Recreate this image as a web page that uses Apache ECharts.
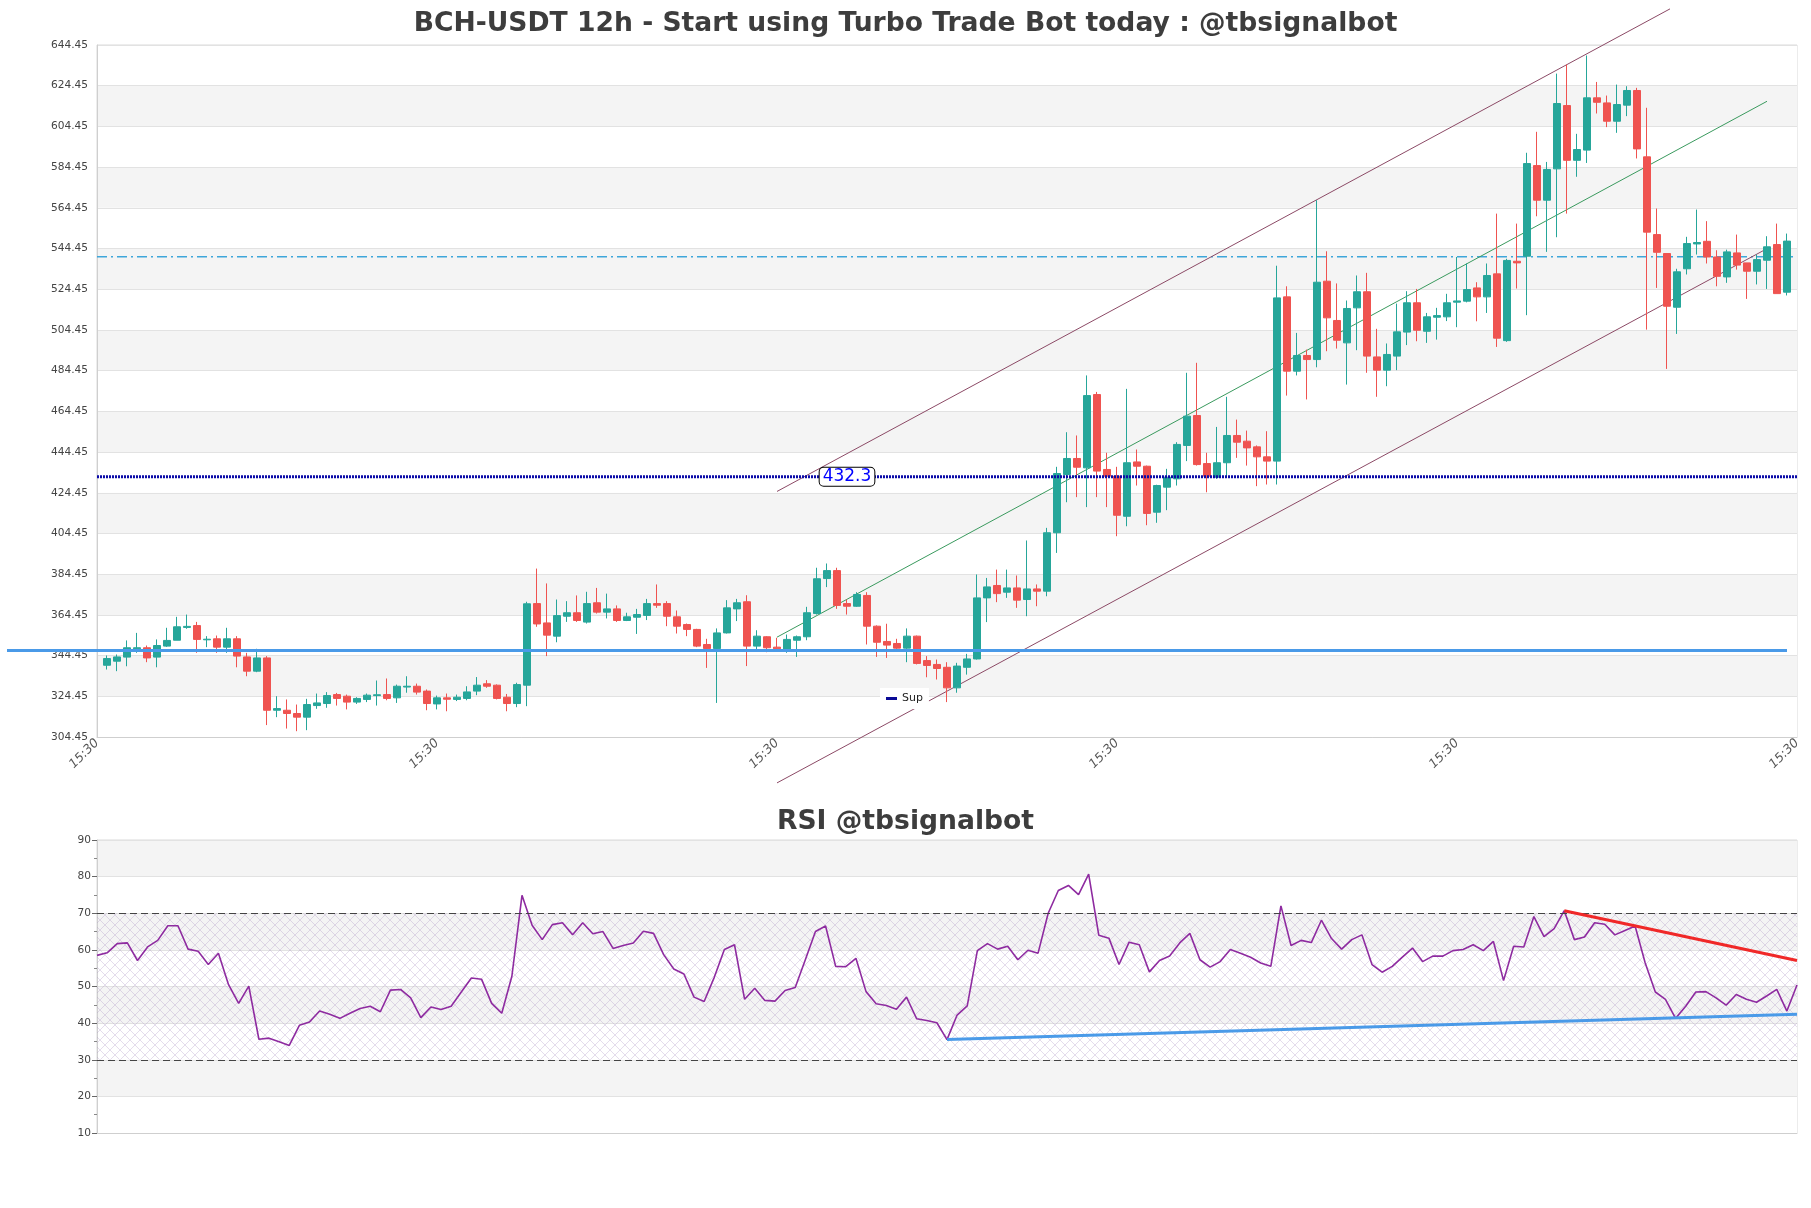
<!DOCTYPE html>
<html><head><meta charset="utf-8">
<script src="https://cdn.jsdelivr.net/npm/echarts@6/dist/echarts.min.js"></script>
<style>html,body{margin:0;padding:0;background:#fff}#c{width:1811px;height:1208px}</style>
</head><body><div id="c"></div>
<script>
// ---------- DATA ----------
const opens = [339.7,341.7,343.7,347.8,348.3,343.7,349.1,352.0,358.3,359.2,352.2,352.7,348.6,352.7,343.8,336.8,343.3,317.6,317.6,316.0,314.2,319.9,320.9,325.3,324.5,321.6,322.9,324.8,325.3,323.7,329.0,329.4,327.0,320.7,323.7,322.9,323.4,327.0,330.6,329.9,324.0,320.9,329.9,370.0,360.5,354.0,363.8,365.5,360.9,370.4,365.8,367.4,361.7,363.3,364.2,370.0,370.0,363.5,359.7,357.3,349.9,347.9,355.6,367.4,370.9,349.1,353.7,348.6,347.4,352.0,353.7,365.1,382.3,386.2,370.0,368.7,374.0,358.9,351.4,350.4,348.1,354.0,342.0,340.1,338.7,328.6,338.7,342.8,372.8,378.9,375.6,377.7,372.0,377.2,376.1,404.8,433.4,441.3,436.7,472.7,435.9,432.6,412.9,439.6,437.5,414.9,427.2,431.3,447.7,462.4,438.8,432.1,439.2,452.6,449.8,447.0,442.1,440.0,520.7,484.2,491.9,489.9,528.4,509.1,498.1,515.3,523.2,491.2,484.7,491.6,503.4,517.8,503.8,510.7,510.9,518.1,518.6,525.1,520.7,532.0,499.2,538.2,540.7,585.2,568.2,583.6,614.7,587.8,592.8,618.5,616.0,607.0,614.9,622.1,589.5,551.3,542.0,515.6,534.5,546.7,548.0,540.3,530.5,542.3,537.4,533.3,538.7,546.4,523.0];
const closes = [343.0,343.8,348.3,348.3,343.3,349.4,351.9,358.6,358.8,352.4,352.5,348.6,352.7,344.2,336.8,343.3,317.6,318.4,316.0,314.2,320.4,321.2,324.8,323.4,321.6,323.4,325.0,325.2,323.4,329.4,329.4,326.5,320.9,323.7,323.0,324.0,326.6,329.9,329.4,323.4,320.9,330.2,369.9,360.0,354.5,364.1,365.5,361.7,370.0,365.8,367.4,361.7,363.5,364.6,370.0,369.2,363.8,358.9,357.3,349.1,347.9,355.6,367.9,370.4,349.1,354.0,348.3,347.8,352.4,353.7,365.5,382.2,386.2,369.1,368.7,374.5,358.9,351.0,349.6,348.1,354.0,340.6,339.6,338.1,328.6,339.3,342.8,372.8,378.2,374.9,377.7,371.7,377.2,376.1,404.8,433.9,441.3,437.0,472.2,435.1,432.6,413.4,439.2,437.5,414.3,428.0,432.1,448.2,462.1,438.3,432.6,439.2,452.6,449.3,446.5,442.1,440.0,520.2,484.2,491.9,489.9,527.9,510.4,499.4,515.0,523.2,491.6,484.7,492.4,503.5,517.8,504.3,510.9,511.5,517.8,518.7,524.3,520.7,531.2,500.4,538.6,537.4,586.2,568.2,583.3,615.7,587.8,593.1,618.5,616.3,607.0,615.2,622.1,593.4,552.5,542.6,516.1,533.0,546.9,547.4,540.3,530.8,542.8,536.3,533.3,539.0,545.3,522.3,548.1];
const lows = [337.6,336.8,339.2,345.8,341.2,338.7,348.7,352.0,357.6,345.8,348.6,345.8,345.8,338.7,334.3,336.3,310.3,314.2,308.6,307.3,307.8,318.3,318.8,319.9,318.0,320.7,321.6,319.9,322.5,321.2,326.2,325.3,317.6,318.0,317.1,322.1,322.5,325.0,328.6,322.9,317.1,319.1,319.6,358.6,344.2,351.0,361.0,361.0,360.2,365.1,362.7,361.0,361.4,355.1,361.9,367.9,358.9,355.3,354.0,348.6,338.4,321.2,355.3,361.4,339.3,346.3,346.1,346.6,345.8,343.8,352.0,364.6,378.1,367.4,364.6,368.4,349.9,343.8,343.3,347.1,341.2,340.1,333.8,332.7,321.6,326.2,335.1,342.5,360.9,370.7,372.8,367.9,363.8,368.7,373.6,394.9,419.8,422.3,417.4,422.3,417.4,403.1,408.0,428.0,408.5,409.7,415.9,428.0,440.0,437.8,424.7,431.3,432.6,441.6,437.8,427.7,428.5,428.5,472.2,482.1,470.3,486.1,494.0,495.3,477.6,494.5,483.4,471.6,476.8,484.7,497.0,498.9,498.1,499.7,508.8,505.8,518.0,508.7,512.8,496.1,498.6,524.8,511.7,560.3,542.8,550.0,561.6,579.7,586.5,610.8,604.1,601.3,609.5,588.7,504.6,525.1,485.3,502.5,531.7,541.5,537.1,525.9,527.6,534.1,519.7,526.8,524.6,522.3,521.4];
const highs = [344.5,345.0,351.9,355.6,349.4,352.4,358.1,363.5,364.6,361.0,354.0,354.3,358.1,354.0,345.8,347.8,344.2,324.5,322.9,320.4,323.2,325.8,326.5,326.1,325.3,324.0,325.8,332.2,333.2,330.2,334.3,330.7,327.8,324.8,325.8,325.3,329.4,333.9,332.4,330.3,325.6,331.1,370.9,387.2,379.9,372.0,371.2,374.0,375.8,377.7,374.9,369.1,365.5,367.4,372.3,379.4,371.2,366.6,360.2,357.6,352.7,357.8,371.7,372.3,374.1,356.9,354.0,353.2,354.8,354.3,368.4,387.6,389.7,387.6,372.0,375.6,375.6,359.3,360.1,352.7,357.8,354.3,344.2,342.5,341.2,340.9,345.3,384.3,382.6,386.7,386.7,383.8,401.0,379.4,407.2,437.2,454.2,452.6,482.1,474.0,444.1,437.2,475.5,445.7,437.8,428.4,436.2,449.3,483.4,488.3,444.1,456.8,471.6,460.4,455.0,447.7,454.7,536.0,525.9,503.0,494.8,568.2,543.1,527.3,518.9,531.2,532.5,505.0,497.8,517.4,523.5,524.6,512.8,515.3,522.2,540.3,537.1,527.9,537.1,561.6,539.4,556.7,591.5,601.8,587.0,630.4,634.8,600.8,639.3,626.3,619.6,625.0,624.2,623.4,613.6,564.1,542.0,534.5,550.2,563.6,557.9,543.6,543.9,551.3,537.4,541.5,550.5,556.7,551.8];
const rsiValues = [58.5,59.2,61.7,61.9,57.1,60.8,62.6,66.6,66.6,60.2,59.6,56.0,59.1,50.5,45.4,50.1,35.6,35.9,34.9,33.9,39.4,40.3,43.3,42.4,41.3,42.7,44.0,44.6,43.1,49.0,49.2,46.9,41.5,44.4,43.7,44.6,48.5,52.3,52.0,45.4,42.7,52.8,74.9,66.7,62.8,66.9,67.4,64.1,67.4,64.4,65.0,60.4,61.2,61.9,65.1,64.5,58.7,54.8,53.4,47.1,45.9,52.5,60.1,61.4,46.5,49.5,46.2,46.0,48.9,49.7,57.3,65.0,66.5,55.5,55.4,57.7,48.6,45.3,44.8,43.8,47.1,41.2,40.7,40.1,35.5,42.2,44.7,59.8,61.7,60.2,61.0,57.3,59.9,59.1,70.0,76.2,77.6,75.1,80.7,64.0,63.2,56.0,62.1,61.4,54.0,57.1,58.3,61.9,64.5,57.3,55.3,56.8,60.1,59.1,58.0,56.4,55.5,72.0,61.2,62.6,62.0,68.1,63.1,60.2,62.8,64.1,56.0,53.9,55.5,58.0,60.5,56.8,58.3,58.3,59.8,60.1,61.4,59.8,62.3,51.6,61.0,60.8,69.1,63.6,65.8,70.7,62.8,63.5,67.4,67.0,64.1,65.3,66.5,56.4,48.5,46.5,41.3,44.6,48.5,48.6,46.9,44.9,47.8,46.5,45.7,47.4,49.2,43.3,50.4];
const yTicks = [304.45,324.45,344.45,364.45,384.45,404.45,424.45,444.45,464.45,484.45,504.45,524.45,544.45,564.45,584.45,604.45,624.45,644.45];
const xTickLabels = ['15:30','15:30','15:30','15:30','15:30','15:30'];
const supportLevel = 346.9;       // thick blue line
const supLevel = 432.3;           // dotted "Sup" line
const resistLevel = 540.4;        // dash-dot line
const supLabelAt = 75;
const channelUpper = [[68, 425.1], [157.3, 662.2]];
const channelMid = [[68, 353.5], [167, 616.8]];
const channelLower = [[68, 281.9], [167, 544.4]];
const supportSpan = [-9, 169];
const rsiUpTrend = [[84, 35.5], [168, 42.4]];
const rsiDownTrend = [[145, 70.7], [168, 57.1]];

// ---------- BUILD ----------
const candles = opens.map((o, k) => [k + 1, o, closes[k], lows[k], highs[k]]);
const rsiData = rsiValues.map((v, k) => [k, v]);

function hatch() {
  const c = document.createElement('canvas'); c.width = c.height = 10;
  const g = c.getContext('2d');
  g.strokeStyle = 'rgba(170,145,195,0.45)'; g.lineWidth = 0.7;
  g.beginPath(); g.moveTo(0, 0); g.lineTo(10, 10); g.moveTo(10, 0); g.lineTo(0, 10); g.stroke();
  return c;
}
const FONT = 'DejaVu Sans';
const TITLE = {fontSize: 26.6, fontWeight: 'bold', color: '#3d3d3d', fontFamily: FONT};
const chart = echarts.init(document.getElementById('c'), null, {renderer: 'canvas'});
chart.setOption({
  animation: false,
  backgroundColor: '#ffffff',
  textStyle: {fontFamily: FONT},
  title: [
    {text: 'BCH-USDT 12h - Start using Turbo Trade Bot today : @tbsignalbot', left: 'center', top: 6, textStyle: TITLE},
    {text: 'RSI @tbsignalbot', left: 'center', top: 804, textStyle: TITLE}
  ],
  legend: {
    data: [{name: 'Sup', icon: 'rect'}], left: 880, top: 688, itemWidth: 11, itemHeight: 3,
    backgroundColor: '#ffffff', padding: [5, 6], textStyle: {fontSize: 11, color: '#222', fontFamily: FONT}
  },
  grid: [
    {left: 97, right: 14, top: 45, height: 692, show: true, borderColor: '#dadada', borderWidth: 1},
    {left: 97, right: 14, top: 840, height: 293, show: true, borderColor: '#dadada', borderWidth: 1}
  ],
  xAxis: [
    {type: 'value', gridIndex: 0, min: 0, max: 170, interval: 34,
     axisLine: {show: true, lineStyle: {color: '#cfcfcf'}}, axisTick: {show: false},
     splitLine: {show: false},
     axisLabel: {rotate: 45, margin: 4, fontSize: 12.5, color: '#555', fontStyle: 'italic', fontFamily: FONT,
       formatter: v => xTickLabels[Math.round(v / 34)]}},
    {type: 'value', gridIndex: 1, min: 0, max: 168,
     axisLine: {show: true, lineStyle: {color: '#cfcfcf'}}, axisTick: {show: false},
     splitLine: {show: false}, axisLabel: {show: false}}
  ],
  yAxis: [
    {type: 'value', gridIndex: 0, min: 304.45, max: 644.45,
     axisLine: {show: true, lineStyle: {color: '#cfcfcf'}},
     axisTick: {show: false, customValues: yTicks},
     axisLabel: {customValues: yTicks, formatter: v => v.toFixed(2), fontSize: 10.6, color: '#444', margin: 9, fontFamily: FONT},
     splitLine: {show: true, lineStyle: {color: '#e2e2e2'}},
     splitArea: {show: true, areaStyle: {color: ['#ffffff', '#f4f4f4']}}},
    {type: 'value', gridIndex: 1, min: 10, max: 90, interval: 10,
     axisLine: {show: true, lineStyle: {color: '#cfcfcf'}},
     axisTick: {show: true, length: 5, lineStyle: {color: '#666'}},
     minorTick: {show: true, splitNumber: 2, length: 3, lineStyle: {color: '#888'}},
     axisLabel: {fontSize: 10.6, color: '#444', margin: 6, fontFamily: FONT},
     splitLine: {show: true, lineStyle: {color: '#e2e2e2'}},
     splitArea: {show: true, areaStyle: {color: ['#ffffff', '#f4f4f4']}}}
  ],
  series: [
    {type: 'candlestick', name: 'BCH', xAxisIndex: 0, yAxisIndex: 0, data: candles,
     encode: {x: 0, y: [1, 2, 3, 4]}, barWidth: 7, z: 4,
     itemStyle: {color: '#26a69a', color0: '#ef5350', borderColor: '#26a69a', borderColor0: '#ef5350', borderWidth: 1}},
    {type: 'line', name: 'Sup', xAxisIndex: 0, yAxisIndex: 0, data: [[0, supLevel], [170, supLevel]],
     symbol: 'none', z: 5, itemStyle: {color: '#0a0a96'},
     lineStyle: {color: '#0a0aa8', width: 3, type: [2, 1]},
     markPoint: {z: 20, symbol: 'rect', symbolSize: [1, 1], itemStyle: {color: 'rgba(0,0,0,0)'},
       data: [{coord: [supLabelAt, supLevel]}],
       label: {show: true, position: 'inside', formatter: String(supLevel), color: '#0000ff', fontSize: 17,
         backgroundColor: '#ffffff', borderColor: '#000', borderWidth: 1, borderRadius: 4, padding: [1, 3, 0, 3], fontFamily: FONT}}},
    {type: 'line', name: 'res', xAxisIndex: 0, yAxisIndex: 0, data: [[0, resistLevel], [170, resistLevel]],
     symbol: 'none', z: 3, silent: true, lineStyle: {color: '#3ea6da', width: 1.5, type: [10, 4, 2, 4]}},
    {type: 'line', name: 'support', xAxisIndex: 0, yAxisIndex: 0, data: [], symbol: 'none', z: 6, silent: true},
    {type: 'line', name: 'upper', xAxisIndex: 0, yAxisIndex: 0, clip: false, data: channelUpper,
     symbol: 'none', z: 3, silent: true, lineStyle: {color: '#8c4a66', width: 1}},
    {type: 'line', name: 'mid', xAxisIndex: 0, yAxisIndex: 0, clip: false, data: channelMid,
     symbol: 'none', z: 3, silent: true, lineStyle: {color: '#3a9a5e', width: 1}},
    {type: 'line', name: 'lower', xAxisIndex: 0, yAxisIndex: 0, clip: false, data: channelLower,
     symbol: 'none', z: 3, silent: true, lineStyle: {color: '#8c4a66', width: 1}},
    {type: 'line', name: 'RSI', xAxisIndex: 1, yAxisIndex: 1, data: rsiData, symbol: 'none', z: 4,
     lineStyle: {color: '#8e2ba0', width: 1.6},
     markArea: {silent: true, itemStyle: {color: {image: hatch(), repeat: 'repeat'}},
       data: [[{yAxis: 30}, {yAxis: 70}]]},
     markLine: {silent: true, symbol: 'none', label: {show: false},
       data: [
         {yAxis: 70, lineStyle: {color: '#444', type: [7, 4], width: 1.2}},
         {yAxis: 30, lineStyle: {color: '#444', type: [7, 4], width: 1.2}},
         [{coord: rsiUpTrend[0], lineStyle: {color: '#4a9ae8', width: 3, type: 'solid'}}, {coord: rsiUpTrend[1]}],
         [{coord: rsiDownTrend[0], lineStyle: {color: '#f02828', width: 3, type: 'solid'}}, {coord: rsiDownTrend[1]}]
       ]}}
  ]
});
// support line: start extrapolated left of the axis through the library's own x scale
const f = {xAxisIndex: 0, yAxisIndex: 0};
const p0 = chart.convertToPixel(f, [0, supportLevel]);
const p1 = chart.convertToPixel(f, [1, supportLevel]);
const startX = p0[0] + supportSpan[0] * (p1[0] - p0[0]);
chart.setOption({series: [{}, {}, {}, {
  name: 'support',
  markLine: {silent: true, symbol: 'none', label: {show: false}, z: 6,
    lineStyle: {color: '#4a9ae8', width: 3, type: 'solid'},
    data: [[{x: startX, y: p0[1]}, {coord: [supportSpan[1], supportLevel]}]]}
}]});
</script></body></html>
